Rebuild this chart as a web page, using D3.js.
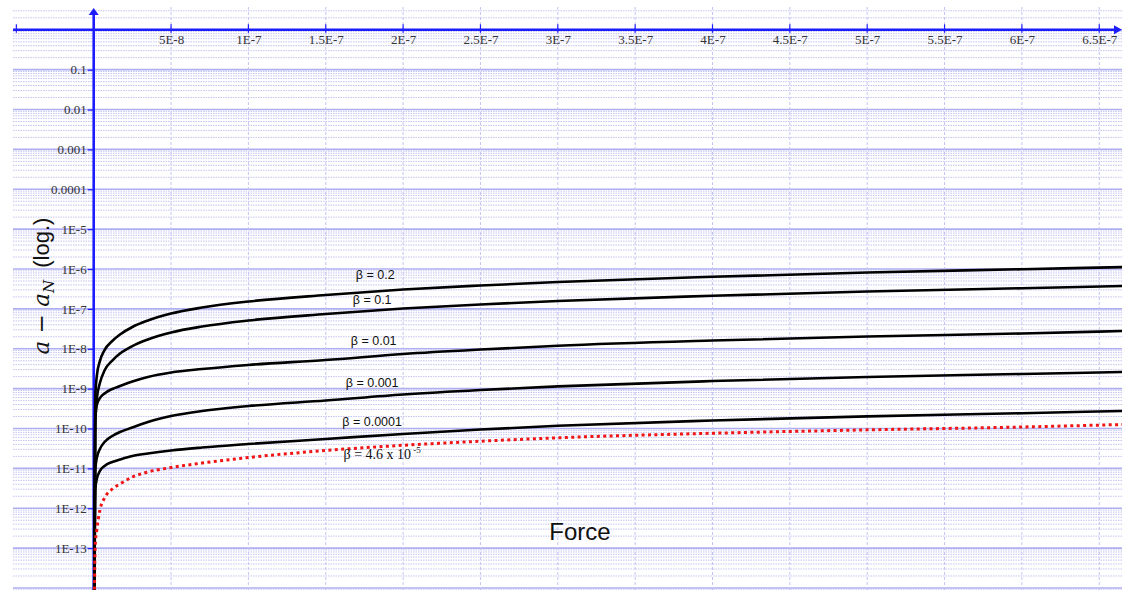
<!DOCTYPE html>
<html>
<head>
<meta charset="UTF-8">
<title>a - aN (log.) vs Force</title>
<script src="https://cdn.jsdelivr.net/npm/d3@7"></script>
<style>
  body { margin: 0; background: #fff; }
  svg { display: block; }
</style>
</head>
<body>
<script>
var width = 1122, height = 590;

var force = [2e-10, 1e-9, 2e-9, 4e-9, 7e-9, 1.2e-8, 1.7e-8, 2.5e-8, 3.5e-8, 5e-8, 7e-8,
             1e-7, 1.5e-7, 2e-7, 2.5e-7, 3e-7, 4e-7, 5e-7, 6e-7, 6.65e-7];

// a - aN for each beta
var beta0_2    = [1e-15, 5.8e-10, 2.07e-9, 4.9e-9, 9.3e-9, 1.57e-8, 2.28e-8, 3.52e-8, 5.12e-8, 7.66e-8, 1.08e-7,
                  1.53e-7, 2.23e-7, 3.06e-7, 3.86e-7, 4.72e-7, 6.38e-7, 8.18e-7, 9.89e-7, 1.12e-6];
var beta0_1    = [1e-15, 1.22e-10, 5.5e-10, 1.38e-9, 2.85e-9, 5.07e-9, 7.6e-9, 1.17e-8, 1.71e-8, 2.56e-8, 3.61e-8,
                  5.12e-8, 7.45e-8, 1.02e-7, 1.29e-7, 1.58e-7, 2.13e-7, 2.73e-7, 3.3e-7, 3.75e-7];
var beta0_01   = [1e-15, 1.63e-10, 3.9e-10, 5.8e-10, 7.6e-10, 9.8e-10, 1.16e-9, 1.51e-9, 1.96e-9, 2.54e-9, 3.1e-9,
                  3.92e-9, 5.22e-9, 7.39e-9, 9.57e-9, 1.19e-8, 1.61e-8, 2.03e-8, 2.42e-8, 2.79e-8];
var beta0_001  = [1e-15, 9.1e-12, 1.82e-11, 3.06e-11, 4.58e-11, 6.49e-11, 8.17e-11, 1.06e-10, 1.46e-10, 2.06e-10, 2.75e-10,
                  3.66e-10, 5.04e-10, 7.13e-10, 9.25e-10, 1.14e-9, 1.55e-9, 1.96e-9, 2.33e-9, 2.61e-9];
var beta0_0001 = [1e-15, 2.86e-12, 5.41e-12, 8.59e-12, 1.15e-11, 1.45e-11, 1.67e-11, 2.04e-11, 2.36e-11, 2.81e-11, 3.33e-11,
                  4.08e-11, 5.46e-11, 7.28e-11, 9.44e-11, 1.17e-10, 1.59e-10, 2.02e-10, 2.42e-10, 2.75e-10];
var beta4_6e5  = [1e-15, 1.2e-13, 2.84e-13, 9.0e-13, 1.81e-12, 3.04e-12, 4.06e-12, 6.08e-12, 8.11e-12, 1.05e-11, 1.36e-11,
                  1.87e-11, 2.81e-11, 3.8e-11, 4.8e-11, 5.85e-11, 7.6e-11, 9.25e-11, 1.09e-10, 1.26e-10];

var xTicks = [5e-8, 1e-7, 1.5e-7, 2e-7, 2.5e-7, 3e-7, 3.5e-7, 4e-7, 4.5e-7, 5e-7, 5.5e-7, 6e-7, 6.5e-7];
var xTickLabels = ["5E-8", "1E-7", "1.5E-7", "2E-7", "2.5E-7", "3E-7", "3.5E-7", "4E-7", "4.5E-7", "5E-7", "5.5E-7", "6E-7", "6.5E-7"];
var yTicks = [1e-1, 1e-2, 1e-3, 1e-4, 1e-5, 1e-6, 1e-7, 1e-8, 1e-9, 1e-10, 1e-11, 1e-12, 1e-13];
var yTickLabels = ["0.1", "0.01", "0.001", "0.0001", "1E-5", "1E-6", "1E-7", "1E-8", "1E-9", "1E-10", "1E-11", "1E-12", "1E-13"];

// curve labels: text, force and value where the label sits
var labelText  = ["β = 0.2", "β = 0.1", "β = 0.01", "β = 0.001", "β = 0.0001"];
var labelForce = [1.82e-7, 1.8e-7, 1.81e-7, 1.8e-7, 1.8e-7];
var labelValue = [5.6e-7, 1.33e-7, 1.24e-8, 1.1e-9, 1.15e-10];

var x = d3.scaleLinear().domain([0, 6.5e-7]).range([93.7, 93.7 + 13 * 77.35]);
var y = d3.scaleLog().domain([1e-14, 1]).range([588, 29.8]);

var svg = d3.select("body").append("svg")
    .attr("width", width)
    .attr("height", height);

svg.append("rect").attr("width", width).attr("height", height).attr("fill", "#fff");

var defs = svg.append("defs");
defs.append("clipPath").attr("id", "gridclip")
  .append("rect").attr("x", 13).attr("y", 7).attr("width", width - 13).attr("height", height - 7);
defs.append("clipPath").attr("id", "plotclip")
  .append("rect").attr("x", 92).attr("y", 0).attr("width", width - 92).attr("height", height);

// grid
var grid = svg.append("g").attr("clip-path", "url(#gridclip)");
var minor = [];
for (var p = -15; p <= 0; p++) {
  for (var k = 2; k <= 9; k++) minor.push(k * Math.pow(10, p));
}
grid.selectAll("line.minor").data(minor).enter().append("line")
    .attr("class", "minor")
    .attr("x1", 13).attr("x2", width)
    .attr("y1", function (d) { return y(d); })
    .attr("y2", function (d) { return y(d); })
    .attr("stroke", "#c4c4f2")
    .attr("stroke-width", 1)
    .attr("stroke-dasharray", "1.5,1");

var major = [];
for (var q = -14; q <= 0; q++) major.push(Math.pow(10, q));
grid.selectAll("line.major").data(major).enter().append("line")
    .attr("class", "major")
    .attr("x1", 13).attr("x2", width)
    .attr("y1", function (d) { return y(d); })
    .attr("y2", function (d) { return y(d); })
    .attr("stroke", "#aeaef0")
    .attr("stroke-width", 1.6);

grid.selectAll("line.vgrid").data(xTicks).enter().append("line")
    .attr("class", "vgrid")
    .attr("x1", function (d) { return x(d); })
    .attr("x2", function (d) { return x(d); })
    .attr("y1", 7).attr("y2", height)
    .attr("stroke", "#c4c4f2")
    .attr("stroke-width", 1)
    .attr("stroke-dasharray", "3,2");

// axes
var axisColor = "#1c1cff";

var xAxis = d3.axisBottom(x)
    .tickValues(xTicks)
    .tickFormat(function (d, i) { return xTickLabels[i]; })
    .tickSize(0)
    .tickPadding(5);
var gx = svg.append("g").attr("transform", "translate(0," + y(1) + ")").call(xAxis);
gx.select(".domain").remove();
gx.selectAll("text")
    .attr("font-family", "'Liberation Serif', 'Times New Roman', serif")
    .attr("font-size", 13)
    .attr("fill", "#333");

var yAxis = d3.axisLeft(y)
    .tickValues(yTicks)
    .tickFormat(function (d, i) { return yTickLabels[i]; })
    .tickSize(6)
    .tickPadding(1);
var gy = svg.append("g").attr("transform", "translate(" + x(0) + ",0)").call(yAxis);
gy.select(".domain").remove();
gy.selectAll("line").attr("stroke", axisColor).attr("stroke-width", 1.2);
gy.selectAll("text")
    .attr("font-family", "'Liberation Serif', 'Times New Roman', serif")
    .attr("font-size", 13)
    .attr("fill", "#333");

// x tick marks crossing the axis line
svg.selectAll("line.xtick").data([-5e-8].concat(xTicks)).enter().append("line")
    .attr("class", "xtick")
    .attr("x1", function (d) { return x(d); })
    .attr("x2", function (d) { return x(d); })
    .attr("y1", y(1) - 5.5).attr("y2", y(1) + 3)
    .attr("stroke", axisColor)
    .attr("stroke-width", 1.2);

svg.append("line")
    .attr("x1", 13).attr("x2", width - 6)
    .attr("y1", y(1)).attr("y2", y(1))
    .attr("stroke", axisColor).attr("stroke-width", 2.4);
svg.append("path")
    .attr("d", "M" + width + "," + y(1) + "L" + (width - 8) + "," + (y(1) - 4.5) + "L" + (width - 8) + "," + (y(1) + 4.5) + "Z")
    .attr("fill", axisColor);

svg.append("line")
    .attr("x1", x(0)).attr("x2", x(0))
    .attr("y1", 13).attr("y2", height)
    .attr("stroke", axisColor).attr("stroke-width", 2.6);
svg.append("path")
    .attr("d", "M" + x(0) + ",8L" + (x(0) - 5) + ",15L" + (x(0) + 5) + ",15Z")
    .attr("fill", axisColor);

// curves
var line = d3.line()
    .x(function (d) { return x(d[0]); })
    .y(function (d) { return y(d[1]); })
    .curve(d3.curveMonotoneX);

var blackSeries = [beta0_2, beta0_1, beta0_01, beta0_001, beta0_0001];
var plot = svg.append("g").attr("clip-path", "url(#plotclip)");

plot.selectAll("path.curve").data(blackSeries).enter().append("path")
    .attr("class", "curve")
    .attr("d", function (vals) { return line(d3.zip(force, vals)); })
    .attr("fill", "none")
    .attr("stroke", "#000")
    .attr("stroke-width", 2.6);

plot.append("path")
    .attr("d", line(d3.zip(force, beta4_6e5)))
    .attr("fill", "none")
    .attr("stroke", "#f01414")
    .attr("stroke-width", 3)
    .attr("stroke-dasharray", "3,3.4");

// labels on the curves
svg.selectAll("text.blabel").data(labelText).enter().append("text")
    .attr("class", "blabel")
    .attr("x", function (d, i) { return x(labelForce[i]); })
    .attr("y", function (d, i) { return y(labelValue[i]); })
    .attr("text-anchor", "middle")
    .attr("font-family", "'Liberation Sans', Arial, sans-serif")
    .attr("font-size", 12.5)
    .attr("fill", "#111")
    .text(function (d) { return d; });

var redLabel = svg.append("text")
    .attr("x", x(1.615e-7))
    .attr("y", y(1.71e-11))
    .attr("font-family", "'Liberation Serif', 'Times New Roman', serif")
    .attr("font-size", 14)
    .attr("fill", "#111");
redLabel.append("tspan").text("β = 4.6 x 10");
redLabel.append("tspan").attr("dy", -6).attr("font-size", 9).text(" -5");

// axis titles
var yTitle = svg.append("text")
    .attr("transform", "translate(49,286) rotate(-90)")
    .attr("text-anchor", "middle")
    .attr("fill", "#111");
yTitle.append("tspan")
    .attr("font-family", "'DejaVu Serif', 'Liberation Serif', serif")
    .attr("font-style", "italic")
    .attr("font-size", 23)
    .text("a − a");
yTitle.append("tspan")
    .attr("font-family", "'DejaVu Serif', 'Liberation Serif', serif")
    .attr("font-style", "italic")
    .attr("font-size", 15)
    .attr("dy", 5)
    .text("N");
yTitle.append("tspan")
    .attr("font-family", "'Liberation Sans', Arial, sans-serif")
    .attr("font-size", 22)
    .attr("dy", -5)
    .text("\u00a0\u00a0(log.)");

svg.append("text")
    .attr("x", 580)
    .attr("y", 540)
    .attr("text-anchor", "middle")
    .attr("font-family", "'Liberation Sans', Arial, sans-serif")
    .attr("font-size", 24)
    .attr("fill", "#111")
    .text("Force");
</script>
</body>
</html>
